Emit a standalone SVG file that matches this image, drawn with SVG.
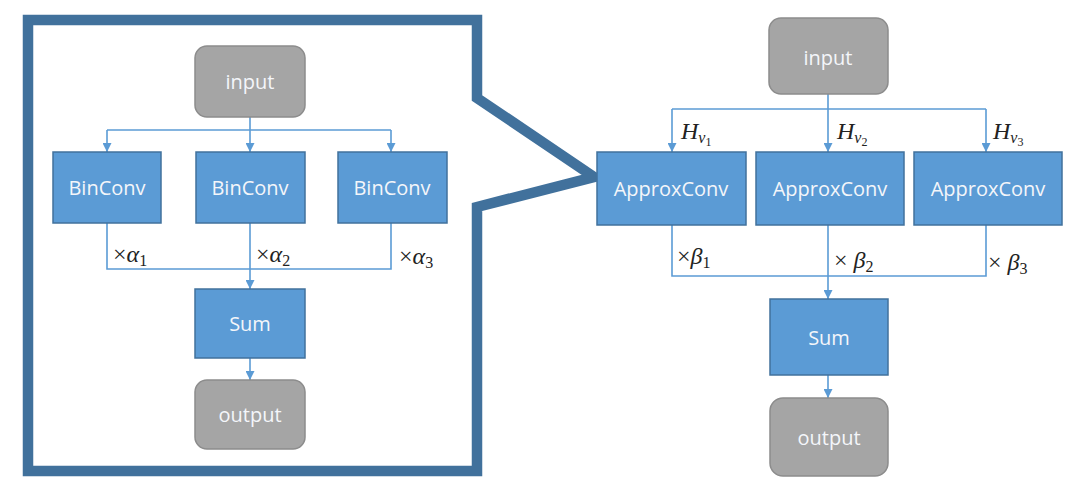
<svg xmlns="http://www.w3.org/2000/svg" width="1080" height="501" viewBox="0 0 1080 501">
<style>
.blue{fill:#5b9bd5;stroke:#41719c;stroke-width:1.5}
.gray{fill:#a5a5a5;stroke:#8c8c8c;stroke-width:1.5}
.lbl{font-family:"Open Sans","Noto Sans",sans-serif;font-size:20px;fill:#f4f6fa;text-anchor:middle;dominant-baseline:central}
.con{fill:none;stroke:#5b9bd5;stroke-width:1.6}
.math{font-family:"Liberation Serif","DejaVu Serif",serif;font-size:24px;fill:#222}
.it{font-style:italic}
.sub{font-size:16px}
.sub2{font-size:12px}
.frame{fill:none;stroke:#41719c;stroke-width:10.5;stroke-linejoin:miter;stroke-miterlimit:10}
</style>
<defs>
<marker id="ah" markerUnits="userSpaceOnUse" markerWidth="10" markerHeight="9" refX="9" refY="4.5" orient="auto" viewBox="0 0 10 9">
<path d="M0 0 L9 4.5 L0 9 Z" fill="#5b9bd5"/>
</marker>
</defs>
<rect width="1080" height="501" fill="#ffffff"/>
<g id="zoom-frame">
<path class="frame" d="M477 98 L477 20 L28 20 L28 471 L477 471 L477 207 L594 177 Z"/>
</g>
<g id="connectors">
<path class="con" d="M250 117 V152" marker-end="url(#ah)"/>
<path class="con" d="M107 130 H391"/>
<path class="con" d="M107 130 V152" marker-end="url(#ah)"/>
<path class="con" d="M391 130 V152" marker-end="url(#ah)"/>
<path class="con" d="M107 223 V269 H391 V223"/>
<path class="con" d="M250 223 V289" marker-end="url(#ah)"/>
<path class="con" d="M250 358 V380" marker-end="url(#ah)"/>
<path class="con" d="M828 94 V152" marker-end="url(#ah)"/>
<path class="con" d="M672 109 H986"/>
<path class="con" d="M672 109 V152" marker-end="url(#ah)"/>
<path class="con" d="M986 109 V152" marker-end="url(#ah)"/>
<path class="con" d="M672 225 V276 H986 V225"/>
<path class="con" d="M828 225 V299" marker-end="url(#ah)"/>
<path class="con" d="M828 375 V398" marker-end="url(#ah)"/>
</g>
<g id="l-input"><rect class="gray" x="195" y="46" width="110" height="71" rx="12"/><text class="lbl" x="250" y="81">input</text></g>
<g id="l-binconv1"><rect class="blue" x="53" y="152" width="108" height="71"/><text class="lbl" x="107" y="187">BinConv</text></g>
<g id="l-binconv2"><rect class="blue" x="196" y="152" width="109" height="71"/><text class="lbl" x="250" y="187">BinConv</text></g>
<g id="l-binconv3"><rect class="blue" x="338" y="152" width="109" height="71"/><text class="lbl" x="392" y="187">BinConv</text></g>
<g id="l-sum"><rect class="blue" x="195" y="289" width="110" height="69"/><text class="lbl" x="250" y="323">Sum</text></g>
<g id="l-output"><rect class="gray" x="195" y="380" width="110" height="69" rx="12"/><text class="lbl" x="250" y="414">output</text></g>
<g id="r-input"><rect class="gray" x="769" y="18" width="119" height="76" rx="12"/><text class="lbl" x="828" y="57">input</text></g>
<g id="r-approx1"><rect class="blue" x="597" y="152" width="149" height="73"/><text class="lbl" x="671" y="188">ApproxConv</text></g>
<g id="r-approx2"><rect class="blue" x="756" y="152" width="148" height="73"/><text class="lbl" x="830" y="188">ApproxConv</text></g>
<g id="r-approx3"><rect class="blue" x="914" y="152" width="148" height="73"/><text class="lbl" x="988" y="188">ApproxConv</text></g>
<g id="r-sum"><rect class="blue" x="770" y="299" width="118" height="76"/><text class="lbl" x="829" y="337">Sum</text></g>
<g id="r-output"><rect class="gray" x="770" y="398" width="118" height="78" rx="13"/><text class="lbl" x="829" y="437">output</text></g>
<g id="labels">
<text class="math" x="113" y="262">×<tspan class="it">α</tspan><tspan class="sub" dy="4">1</tspan></text>
<text class="math" x="256" y="262">×<tspan class="it">α</tspan><tspan class="sub" dy="4">2</tspan></text>
<text class="math" x="399" y="264">×<tspan class="it">α</tspan><tspan class="sub" dy="4">3</tspan></text>
<text class="math" x="677" y="264">×<tspan class="it">β</tspan><tspan class="sub" dy="4">1</tspan></text>
<text class="math" x="834" y="268">× <tspan class="it">β</tspan><tspan class="sub" dy="4">2</tspan></text>
<text class="math" x="988" y="270">× <tspan class="it">β</tspan><tspan class="sub" dy="4">3</tspan></text>
<text class="math" x="681" y="139"><tspan class="it">H</tspan><tspan class="it sub" dy="4">v</tspan><tspan class="sub2" dy="3">1</tspan></text>
<text class="math" x="837" y="139"><tspan class="it">H</tspan><tspan class="it sub" dy="4">v</tspan><tspan class="sub2" dy="3">2</tspan></text>
<text class="math" x="993" y="139"><tspan class="it">H</tspan><tspan class="it sub" dy="4">v</tspan><tspan class="sub2" dy="3">3</tspan></text>
</g>
</svg>
